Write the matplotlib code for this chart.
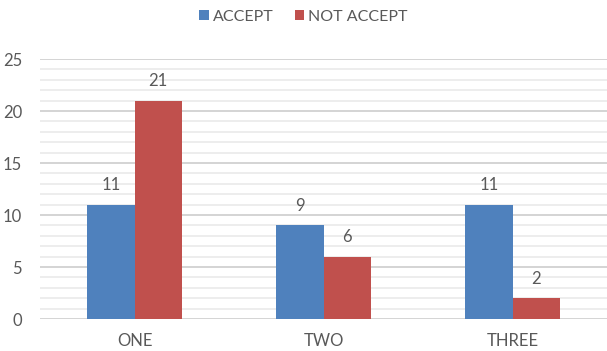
import matplotlib
matplotlib.use("Agg")
import matplotlib.pyplot as plt
import numpy as np
from matplotlib.ticker import MultipleLocator

categories = ["ONE", "TWO", "THREE"]
accept = [11, 9, 11]
not_accept = [21, 6, 2]
series_names = ["ACCEPT", "NOT ACCEPT"]

plt.rcParams['font.family'] = ['Lato', 'DejaVu Sans']
grey = "#595959"

fig = plt.figure(figsize=(6.07, 3.51), dpi=100)
ax = fig.add_axes([40/607, 32/351, 567/607, 260/351])

x = np.arange(len(categories))
w = 0.25
b1 = ax.bar(x - w/2, accept, w, color="#4F81BD", label=series_names[0], zorder=3)
b2 = ax.bar(x + w/2, not_accept, w, color="#C0504D", label=series_names[1], zorder=3)

for bars, vals in ((b1, accept), (b2, not_accept)):
    for r, v in zip(bars, vals):
        ax.annotate(str(v), (r.get_x() + r.get_width()/2, v), xytext=(0, 8),
                    textcoords="offset points", ha="center", va="bottom",
                    fontsize=12, color=grey)

ax.set_xlim(-0.5, 2.5)
ax.set_ylim(0, 25)
ax.yaxis.set_major_locator(MultipleLocator(5))
ax.yaxis.set_minor_locator(MultipleLocator(1))
ax.grid(axis="y", which="major", color="#D4D4D4", linewidth=1.4, zorder=0)
ax.grid(axis="y", which="minor", color="#E8E8E8", linewidth=1.1, zorder=0)
ax.set_axisbelow(True)
for s in ax.spines.values():
    s.set_visible(False)
ax.tick_params(axis="both", which="both", length=0, colors=grey, labelsize=12)
ax.tick_params(axis="y", pad=13)
ax.tick_params(axis="x", pad=10)
ax.set_xticks(x)
ax.set_xticklabels(categories)

fig.legend(handles=[b1, b2], labels=series_names, loc="center", bbox_to_anchor=(0.5, 1 - 17/351),
           ncol=2, frameon=False, fontsize=11.5, labelcolor=grey, handlelength=0.6,
           handleheight=0.6, handletextpad=0.25, columnspacing=1.3)

fig.savefig("out.png", dpi=100)
